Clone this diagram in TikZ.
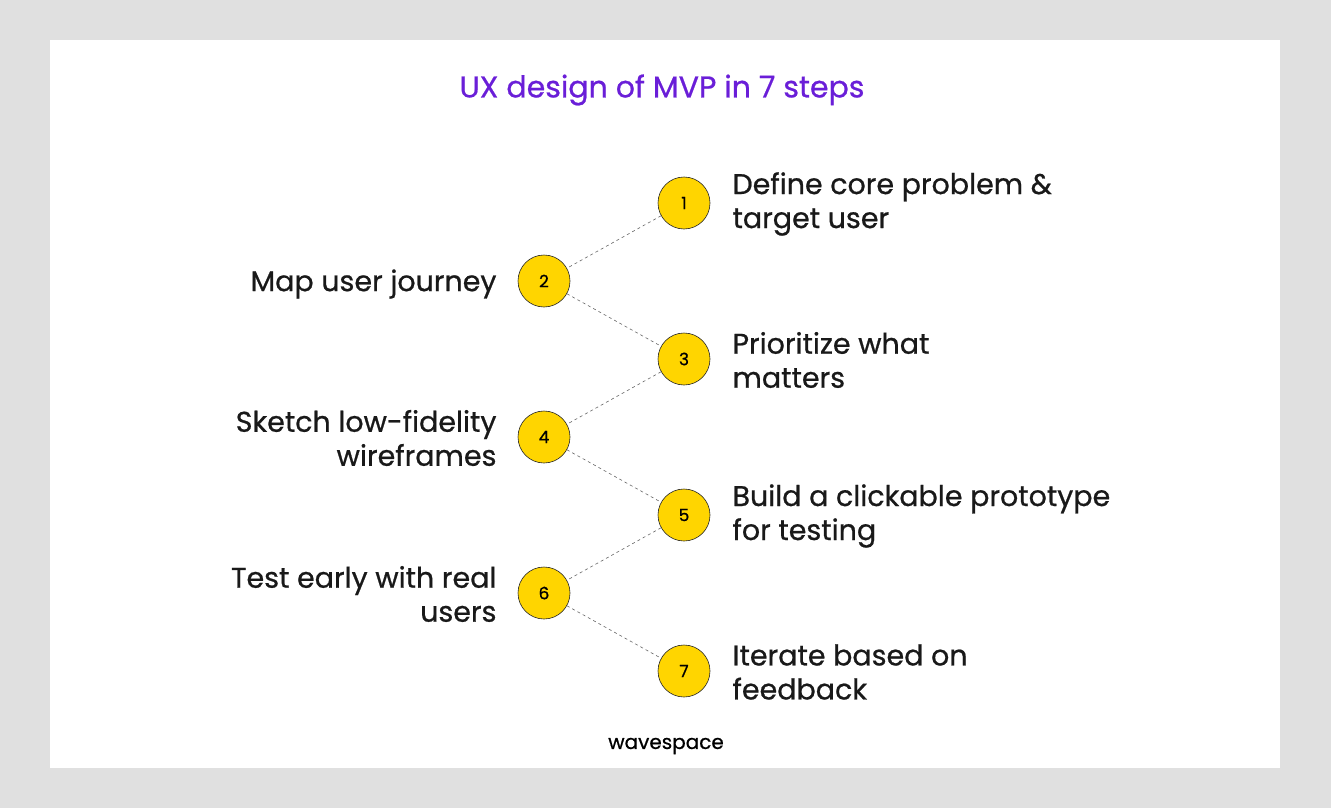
\documentclass[tikz,border=0pt]{standalone}
\usepackage{fontspec}
\setmainfont{Poppins}
\newfontfamily\med{Poppins}[FakeBold=0.7]
\definecolor{bgc}{HTML}{E0E0E0}
\definecolor{gold}{HTML}{FFD500}
\definecolor{ttl}{HTML}{6A1ED8}
\begin{document}
\begin{tikzpicture}[x=1pt,y=-1pt,
 stp/.style={circle,draw=black!85,line width=0.6pt,fill=gold,minimum size=52pt,inner sep=0pt,font=\med\fontsize{17}{17}\selectfont},
 rt/.style={anchor=west,align=left,font=\med\fontsize{28.5}{34}\selectfont,text=black!90},
 lt/.style={anchor=east,align=right,font=\med\fontsize{28.5}{34}\selectfont,text=black!90},
 con/.style={draw=black!60,line width=0.6pt,dash pattern=on 3pt off 3pt}]
\fill[bgc] (0,0) rectangle (1331,808);
\fill[white] (50,40) rectangle (1280,768);
\node[font=\med\fontsize{30}{30}\selectfont,text=ttl] (title) at (662,90) {UX design of MVP in 7 steps};
\node[stp] (s1) at (684,203) {1};
\node[stp] (s2) at (544,281) {2};
\node[stp] (s3) at (684,359) {3};
\node[stp] (s4) at (544,437) {4};
\node[stp] (s5) at (684,515) {5};
\node[stp] (s6) at (544,593) {6};
\node[stp] (s7) at (684,671) {7};
\foreach \a/\b in {s1/s2,s2/s3,s3/s4,s4/s5,s5/s6,s6/s7} \draw[con] (\a) -- (\b);
\node[rt] (t1) at (729,204) {Define core problem \&\\target user};
\node[lt] (t2) at (500,284) {Map user journey};
\node[rt] (t3) at (729,360) {Prioritize what\\matters};
\node[lt] (t4) at (500,438) {Sketch low-fidelity\\wireframes};
\node[rt] (t5) at (729,516) {Build a clickable prototype\\for testing};
\node[lt] (t6) at (500,594) {Test early with real\\users};
\node[rt] (t7) at (729,672) {Iterate based on\\feedback};
\node[font=\med\fontsize{20}{20}\selectfont] (logo) at (666,746) {wavespace};
\end{tikzpicture}
\end{document}
